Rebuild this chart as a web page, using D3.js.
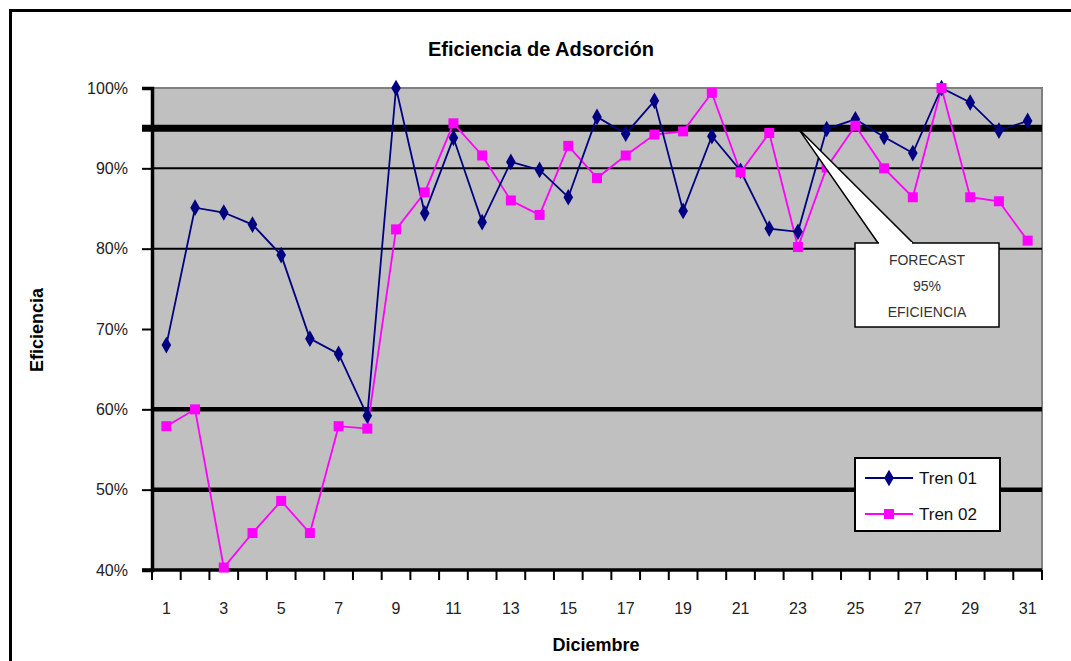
<!DOCTYPE html>
<html><head><meta charset="utf-8">
<script src="https://cdn.jsdelivr.net/npm/d3@7"></script>
<style>
html,body{margin:0;padding:0;background:#fff;}
svg{display:block;font-family:"Liberation Sans",Arial,sans-serif;}
</style></head>
<body>
<svg id="c" width="1071" height="661"></svg>
<script>
const days = d3.range(1, 32);
const tren01 = [68.0, 85.1, 84.5, 83.0, 79.2, 68.8, 66.9, 59.2, 100.0, 84.4, 93.8, 83.3, 90.8, 89.8, 86.4, 96.4, 94.3, 98.4, 84.7, 94.0, 89.7, 82.5, 82.1, 94.9, 96.1, 93.9, 91.9, 100.0, 98.2, 94.7, 95.9];
const tren02 = [57.9, 60.0, 40.3, 44.6, 48.6, 44.6, 57.9, 57.6, 82.4, 87.0, 95.6, 91.6, 86.0, 84.2, 92.8, 88.8, 91.6, 94.2, 94.6, 99.4, 89.5, 94.4, 80.2, 90.1, 95.3, 90.0, 86.4, 100.0, 86.4, 85.9, 81.0];
const yTicks = [40, 50, 60, 70, 80, 90, 100];
const thinLines = [80, 90];
const thickLines = [50, 60];
const targetLine = 95;
const xLabels = d3.range(1, 32, 2);
const seriesNames = ["Tren 01", "Tren 02"];
const calloutText = ["FORECAST", "95%", "EFICIENCIA"];
const calloutDay = 23;

const svg = d3.select("#c");
const L = 152, R = 1042, T = 88, B = 570;
const x = d3.scaleBand().domain(days).range([L, R]);
const xc = d => x(d) + x.bandwidth() / 2;
const y = d3.scaleLinear().domain([40, 100]).range([B, T]);

// outer frame
svg.append("path").attr("d", `M10.5,661 L10.5,10.5 L1071,10.5`).attr("fill", "none").attr("stroke", "#000").attr("stroke-width", 3);

// title
svg.append("text").attr("x", 541).attr("y", 56).attr("text-anchor", "middle")
  .attr("font-size", 20).attr("font-weight", "bold").text("Eficiencia de Adsorción");

// plot background
svg.append("rect").attr("x", L).attr("y", T).attr("width", R - L).attr("height", B - T).attr("fill", "#c0c0c0");
svg.append("path").attr("d", `M${L},${T} L${R},${T} L${R},${B}`).attr("fill", "none").attr("stroke", "#808080").attr("stroke-width", 2);

// grid lines
const g = svg.append("g");
thinLines.forEach(v => g.append("line").attr("x1", L).attr("x2", R).attr("y1", y(v)).attr("y2", y(v)).attr("stroke", "#000").attr("stroke-width", 2));
thickLines.forEach(v => g.append("line").attr("x1", L).attr("x2", R).attr("y1", y(v)).attr("y2", y(v)).attr("stroke", "#000").attr("stroke-width", 4.5));
g.append("line").attr("x1", L - 10).attr("x2", R).attr("y1", y(targetLine)).attr("y2", y(targetLine)).attr("stroke", "#000").attr("stroke-width", 7);

// y axis
const ya = svg.append("g").attr("transform", `translate(${L},0)`)
  .call(d3.axisLeft(y).tickValues(yTicks).tickFormat(d => d + "%").tickSize(10).tickPadding(14));
ya.select(".domain").attr("stroke-width", 3.5);
ya.selectAll(".tick line").attr("stroke-width", 2);
ya.selectAll("text").attr("font-size", 16).attr("fill", "#222").attr("font-family", "Liberation Sans, Arial, sans-serif");

// x axis: ticks at category boundaries
const xa = svg.append("g").attr("transform", `translate(0,${B})`);
xa.append("line").attr("x1", L - 10).attr("x2", R).attr("stroke", "#000").attr("stroke-width", 3.5);
days.concat([32]).forEach((d, i) => {
  const px = i < 31 ? x(d) : R;
  xa.append("line").attr("x1", px).attr("x2", px).attr("y1", 0).attr("y2", 10).attr("stroke", "#000").attr("stroke-width", 2);
});
xLabels.forEach(d => xa.append("text").attr("x", xc(d)).attr("y", 44).attr("text-anchor", "middle")
  .attr("font-size", 16).attr("fill", "#222").text(d));

// axis titles
svg.append("text").attr("x", 596).attr("y", 651).attr("text-anchor", "middle").attr("font-size", 18).attr("font-weight", "bold").text("Diciembre");
svg.append("text").attr("transform", "translate(43,330) rotate(-90)").attr("text-anchor", "middle").attr("font-size", 18).attr("font-weight", "bold").text("Eficiencia");

// lines
const line = d3.line().x((d, i) => xc(days[i])).y(d => y(d));
svg.append("path").datum(tren02).attr("d", line).attr("fill", "none").attr("stroke", "#ff00ff").attr("stroke-width", 1.8);
svg.append("path").datum(tren01).attr("d", line).attr("fill", "none").attr("stroke", "#000080").attr("stroke-width", 1.8);
const diamond = d3.symbol().type(d3.symbolDiamond).size(80);
svg.append("g").selectAll("path").data(tren01).join("path")
  .attr("transform", (d, i) => `translate(${xc(days[i])},${y(d)})`).attr("d", diamond).attr("fill", "#000080");
svg.append("g").selectAll("rect").data(tren02).join("rect")
  .attr("x", (d, i) => xc(days[i]) - 5).attr("y", d => y(d) - 5).attr("width", 10).attr("height", 10).attr("fill", "#ff00ff");

// callout
const tipX = xc(calloutDay), tipY = y(targetLine);
const bx = 855, by = 243, bw = 144, bh = 84;
svg.append("path")
  .attr("d", `M${tipX},${tipY} L${bx + 23},${by} L${bx + 58},${by} Z`)
  .attr("fill", "#fff").attr("stroke", "#000").attr("stroke-width", 1.5);
svg.append("rect").attr("x", bx).attr("y", by).attr("width", bw).attr("height", bh).attr("fill", "#fff").attr("stroke", "#000").attr("stroke-width", 1.5);
svg.append("line").attr("x1", bx + 24).attr("x2", bx + 57).attr("y1", by).attr("y2", by).attr("stroke", "#fff").attr("stroke-width", 2);
calloutText.forEach((t, i) => svg.append("text").attr("x", bx + bw / 2).attr("y", by + 22 + i * 26)
  .attr("text-anchor", "middle").attr("font-size", 14).attr("fill", "#333").text(t));

// legend
const lx = 855, ly = 458;
svg.append("rect").attr("x", lx).attr("y", ly).attr("width", 145).attr("height", 73).attr("fill", "#fff").attr("stroke", "#000").attr("stroke-width", 2);
const colors = ["#000080", "#ff00ff"];
seriesNames.forEach((n, i) => {
  const yy = ly + 20 + i * 36;
  svg.append("line").attr("x1", lx + 10).attr("x2", lx + 58).attr("y1", yy).attr("y2", yy).attr("stroke", colors[i]).attr("stroke-width", 2);
  if (i === 0) svg.append("path").attr("transform", `translate(${lx + 34},${yy})`).attr("d", diamond).attr("fill", colors[i]);
  else svg.append("rect").attr("x", lx + 29).attr("y", yy - 5).attr("width", 10).attr("height", 10).attr("fill", colors[i]);
  svg.append("text").attr("x", lx + 64).attr("y", yy + 6).attr("font-size", 17).attr("fill", "#111").text(n);
});
</script>
</body></html>
